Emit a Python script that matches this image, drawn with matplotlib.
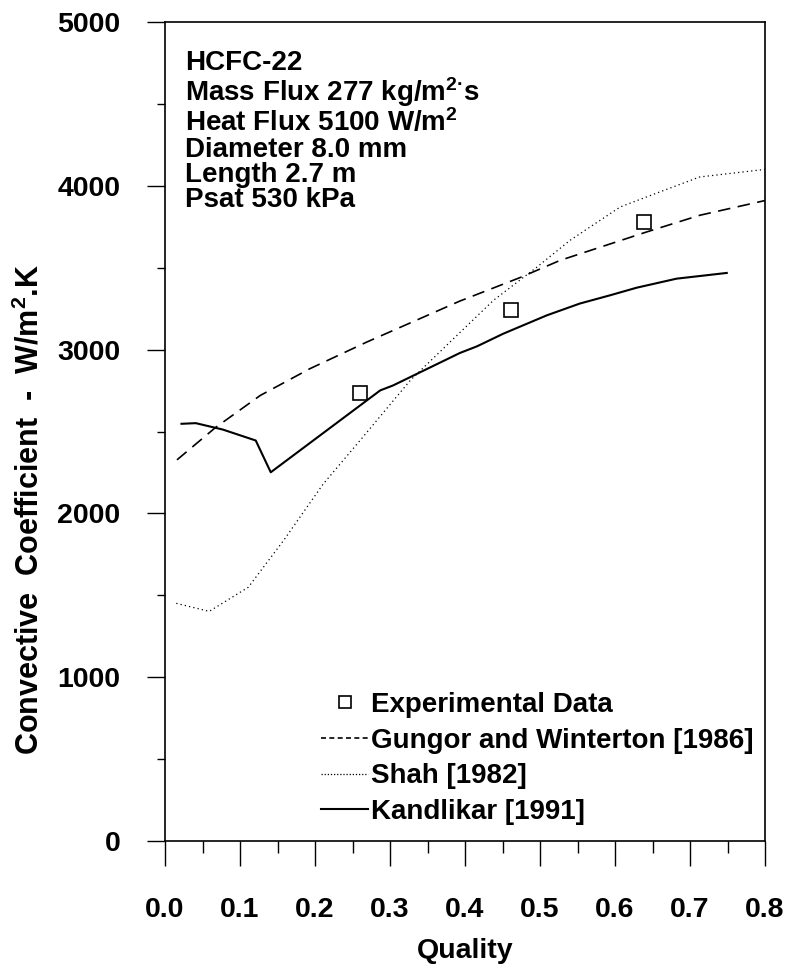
import matplotlib
matplotlib.use("Agg")
import matplotlib.pyplot as plt
from matplotlib.lines import Line2D
from matplotlib.ticker import MultipleLocator, FormatStrFormatter

plt.rcParams["font.family"] = ["Liberation Sans", "DejaVu Sans"]
plt.rcParams["font.weight"] = "bold"
plt.rcParams["axes.labelweight"] = "bold"
plt.rcParams["mathtext.fontset"] = "custom"
plt.rcParams["mathtext.rm"] = "Liberation Sans:bold"
plt.rcParams["mathtext.it"] = "Liberation Sans:bold"
plt.rcParams["mathtext.bf"] = "Liberation Sans:bold"

# Data
exp_q = [0.26, 0.461, 0.639]
exp_h = [2738, 3240, 3778]

gw_q = [0.016, 0.067, 0.127, 0.193, 0.269, 0.393, 0.473, 0.527, 0.642, 0.713, 0.8]
gw_h = [2327, 2523, 2720, 2883, 3046, 3296, 3439, 3545, 3718, 3820, 3910]

shah_q = [0.015, 0.059, 0.111, 0.158, 0.211, 0.26, 0.327, 0.38, 0.438, 0.496,
          0.54, 0.607, 0.66, 0.713, 0.8]
shah_h = [1451, 1402, 1549, 1834, 2180, 2445, 2812, 3046, 3301, 3504,
          3667, 3871, 3963, 4054, 4100]

kand_q = [0.022, 0.041, 0.077, 0.121, 0.141, 0.287, 0.304, 0.393, 0.416, 0.451,
          0.509, 0.553, 0.593, 0.629, 0.682, 0.749]
kand_h = [2547, 2551, 2512, 2445, 2251, 2751, 2781, 2979, 3020, 3097,
          3209, 3281, 3331, 3378, 3433, 3468]

labels = ["Experimental Data", "Gungor and Winterton [1986]",
          "Shah [1982]", "Kandlikar [1991]"]
info_lines = ["HCFC-22",
              r"Mass Flux 277 kg/m$^{2·}$s",
              r"Heat Flux 5100 W/m$^{2}$",
              "Diameter 8.0 mm",
              "Length 2.7 m",
              "Psat 530 kPa"]

W, H = 787, 966
fig = plt.figure(figsize=(W / 100, H / 100), dpi=100)
ax = fig.add_axes([165 / W, 125 / H, 600 / W, 819 / H])

ax.plot(gw_q, gw_h, color="black", lw=1.2, dashes=(7.5, 4.5))
ax.plot(shah_q, shah_h, color="black", lw=0.9, dashes=(1, 2.5))
ax.plot(kand_q, kand_h, color="black", lw=1.5)
ax.plot(exp_q, exp_h, ls="none", marker="s", ms=10.5, mfc="white",
        mec="black", mew=1.2)

ax.set_xlim(0, 0.8)
ax.set_ylim(0, 5000)
ax.xaxis.set_major_locator(MultipleLocator(0.1))
ax.xaxis.set_minor_locator(MultipleLocator(0.05))
ax.xaxis.set_major_formatter(FormatStrFormatter("%.1f"))
ax.yaxis.set_major_locator(MultipleLocator(1000))
ax.yaxis.set_minor_locator(MultipleLocator(500))
ax.tick_params(axis="x", which="major", direction="out", length=18,
               width=1.0, pad=22, labelsize=20.5)
ax.tick_params(axis="x", which="minor", direction="out", length=8.5, width=1.0)
ax.tick_params(axis="y", which="major", direction="out", length=13,
               width=1.0, pad=19, labelsize=20.5)
ax.tick_params(axis="y", which="minor", direction="out", length=6, width=1.0)
for s in ax.spines.values():
    s.set_linewidth(1.2)

ax.set_xlabel("Quality", fontsize=20.5, labelpad=11)
fig.text(30 / W, 1 - 510 / H, "Convective  Coefficient  -  W/m$^{2}$.K",
         fontsize=22, rotation=90, ha="center", va="center")

# info block in the upper left
fig.text(185 / W, 1 - 50 / H, "\n".join(info_lines), fontsize=20,
         ha="left", va="top", linespacing=0.97)

handles = [
    Line2D([], [], ls="none", marker="s", ms=9, mfc="white", mec="black", mew=1.2),
    Line2D([], [], color="black", lw=1.2, dashes=(3, 2)),
    Line2D([], [], color="black", lw=0.9, dashes=(1, 1.5)),
    Line2D([], [], color="black", lw=1.5),
]
ax.legend(handles, labels, loc="upper left", bbox_to_anchor=(0.260, 0.182),
          frameon=False, borderpad=0, borderaxespad=0, handlelength=1.7,
          handletextpad=0.1, labelspacing=0.35, fontsize=20)

fig.savefig("out.png", dpi=100)
